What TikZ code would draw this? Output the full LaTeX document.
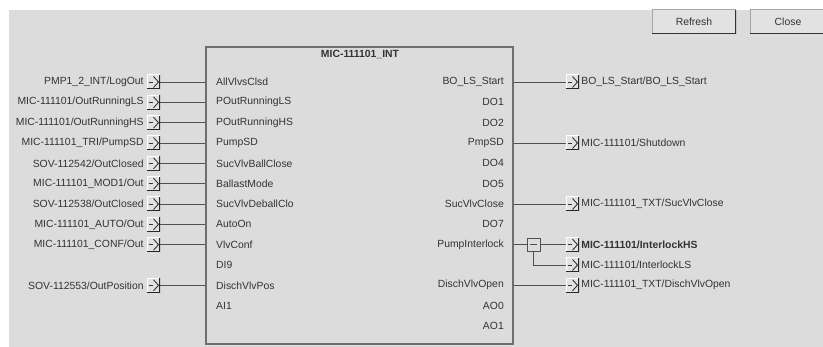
\documentclass[tikz,border=0pt]{standalone}
\usepackage{fontspec}
\setmainfont{Liberation Sans}
\usetikzlibrary{positioning}
\definecolor{panel}{HTML}{DCDCDC}
\definecolor{btnface}{HTML}{E2E2E2}
\definecolor{ink}{HTML}{333333}
\definecolor{wirec}{HTML}{505050}
\definecolor{edgec}{HTML}{6E6E6E}

\tikzset{
  lbl/.style={text=ink, inner sep=0pt, font=\fontsize{10.4}{12}\selectfont},
  wire/.style={draw=wirec, line width=0.8pt},
  xref/.style={minimum width=13pt, minimum height=14pt, inner sep=0pt, fill=btnface,
    path picture={
      \def\bb{path picture bounding box}
      \draw[white, line width=1pt] (\bb.south west) |- (\bb.north east);
      \draw[black!85, line width=1.4pt] (\bb.north east) |- (\bb.south west);
      \draw[ink, line width=0.8pt] ([xshift=-5pt]\bb.center) -- ([xshift=-1pt]\bb.center);
      \draw[ink, line width=0.9pt] ([xshift=0pt,yshift=5.5pt]\bb.center)
        -- ([xshift=5pt]\bb.center) -- ([yshift=-5.5pt]\bb.center);
    }},
  junc/.style={draw=wirec, line width=0.8pt, fill=panel, minimum size=13pt, inner sep=0pt,
    path picture={
      \draw[wirec, line width=0.8pt] ([xshift=-3.5pt]path picture bounding box.center)
        -- ([xshift=3.5pt]path picture bounding box.center);
    }},
  btn/.style={fill=btnface, text=ink, inner sep=0pt, font=\fontsize{10.4}{12}\selectfont,
    path picture={
      \def\bb{path picture bounding box}
      \draw[gray!70, line width=1pt] (\bb.south west) |- (\bb.north east);
      \draw[black!80, line width=1.6pt] (\bb.north east) |- (\bb.south west);
    }}
}

\begin{document}
\begin{tikzpicture}[x=1pt, y=-1pt]
  \useasboundingbox (0,0) rectangle (823,347);
  \fill[white] (0,0) rectangle (823,347);
  \fill[panel] (9,10) rectangle (823,347);

  % Buttons
  \node[btn, minimum width=84pt, minimum height=24pt] (refresh) at (694,22) {Refresh};
  \node[btn, minimum width=76pt, minimum height=24pt] (close) at (788,22) {Close};

  % Function block
  \node[draw=edgec, line width=1.2pt, fill=panel, minimum width=307pt, minimum height=297pt,
    inner sep=0pt] (blk) at (359.5,195.5) {};
  \node[lbl, font=\fontsize{10.4}{12}\selectfont\bfseries] (title) at (360,55) {MIC-111101\_INT};

  % Inputs of the block
  \node[lbl, anchor=west] (pin1) at (216,82) {AllVlvsClsd};
  \node[lbl, anchor=west] (pin2) at (216,102.3) {POutRunningLS};
  \node[lbl, anchor=west] (pin3) at (216,122.7) {POutRunningHS};
  \node[lbl, anchor=west] (pin4) at (216,143) {PumpSD};
  \node[lbl, anchor=west] (pin5) at (216,163.3) {SucVlvBallClose};
  \node[lbl, anchor=west] (pin6) at (216,183.7) {BallastMode};
  \node[lbl, anchor=west] (pin7) at (216,204) {SucVlvDeballClo};
  \node[lbl, anchor=west] (pin8) at (216,224.3) {AutoOn};
  \node[lbl, anchor=west] (pin9) at (216,244.7) {VlvConf};
  \node[lbl, anchor=west] (pin10) at (216,265) {DI9};
  \node[lbl, anchor=west] (pin11) at (216,285.3) {DischVlvPos};
  \node[lbl, anchor=west] (pin12) at (216,305.7) {AI1};

  % Outputs of the block
  \node[lbl, anchor=east] (pout1) at (504,82) {BO\_LS\_Start};
  \node[lbl, anchor=east] (pout2) at (504,102.3) {DO1};
  \node[lbl, anchor=east] (pout3) at (504,122.7) {DO2};
  \node[lbl, anchor=east] (pout4) at (504,143) {PmpSD};
  \node[lbl, anchor=east] (pout5) at (504,163.3) {DO4};
  \node[lbl, anchor=east] (pout6) at (504,183.7) {DO5};
  \node[lbl, anchor=east] (pout7) at (504,204) {SucVlvClose};
  \node[lbl, anchor=east] (pout8) at (504,224.3) {DO7};
  \node[lbl, anchor=east] (pout9) at (504,244.7) {PumpInterlock};
  \node[lbl, anchor=east] (pout11) at (504,285.3) {DischVlvOpen};
  \node[lbl, anchor=east] (pout12) at (504,305.7) {AO0};
  \node[lbl, anchor=east] (pout13) at (504,326) {AO1};

  % Left: sources
  \node[xref] (src1) at (153.5,82) {};
  \node[xref] (src2) at (153.5,102.3) {};
  \node[xref] (src3) at (153.5,122.7) {};
  \node[xref] (src4) at (153.5,143) {};
  \node[xref] (src5) at (153.5,163.3) {};
  \node[xref] (src6) at (153.5,183.7) {};
  \node[xref] (src7) at (153.5,204) {};
  \node[xref] (src8) at (153.5,224.3) {};
  \node[xref] (src9) at (153.5,244.7) {};
  \node[xref] (src11) at (153.5,285.3) {};

  \node[lbl, left=3pt of src1] (tag1) {PMP1\_2\_INT/LogOut};
  \node[lbl, left=3pt of src2] (tag2) {MIC-111101/OutRunningLS};
  \node[lbl, left=3pt of src3] (tag3) {MIC-111101/OutRunningHS};
  \node[lbl, left=3pt of src4] (tag4) {MIC-111101\_TRI/PumpSD};
  \node[lbl, left=3pt of src5] (tag5) {SOV-112542/OutClosed};
  \node[lbl, left=3pt of src6] (tag6) {MIC-111101\_MOD1/Out};
  \node[lbl, left=3pt of src7] (tag7) {SOV-112538/OutClosed};
  \node[lbl, left=3pt of src8] (tag8) {MIC-111101\_AUTO/Out};
  \node[lbl, left=3pt of src9] (tag9) {MIC-111101\_CONF/Out};
  \node[lbl, left=3pt of src11] (tag11) {SOV-112553/OutPosition};

  \draw[wire] (src1.east) -- (src1.east -| blk.west);
  \draw[wire] (src2.east) -- (src2.east -| blk.west);
  \draw[wire] (src3.east) -- (src3.east -| blk.west);
  \draw[wire] (src4.east) -- (src4.east -| blk.west);
  \draw[wire] (src5.east) -- (src5.east -| blk.west);
  \draw[wire] (src6.east) -- (src6.east -| blk.west);
  \draw[wire] (src7.east) -- (src7.east -| blk.west);
  \draw[wire] (src8.east) -- (src8.east -| blk.west);
  \draw[wire] (src9.east) -- (src9.east -| blk.west);
  \draw[wire] (src11.east) -- (src11.east -| blk.west);

  % Right: destinations
  \node[xref] (dst1) at (572.5,82) {};
  \node[xref] (dst4) at (572.5,143) {};
  \node[xref] (dst7) at (572.5,204) {};
  \node[xref] (dst9) at (572.5,244.7) {};
  \node[xref] (dst10) at (572.5,265) {};
  \node[xref] (dst11) at (572.5,285.3) {};

  \node[lbl, right=2pt of dst1] (dtag1) {BO\_LS\_Start/BO\_LS\_Start};
  \node[lbl, right=2pt of dst4] (dtag4) {MIC-111101/Shutdown};
  \node[lbl, right=2pt of dst7] (dtag7) {MIC-111101\_TXT/SucVlvClose};
  \node[lbl, right=2pt of dst9, font=\fontsize{10.4}{12}\selectfont\bfseries] (dtag9) {MIC-111101/InterlockHS};
  \node[lbl, right=2pt of dst10] (dtag10) {MIC-111101/InterlockLS};
  \node[lbl, right=2pt of dst11] (dtag11) {MIC-111101\_TXT/DischVlvOpen};

  \draw[wire] (dst1.west -| blk.east) -- (dst1.west);
  \draw[wire] (dst4.west -| blk.east) -- (dst4.west);
  \draw[wire] (dst7.west -| blk.east) -- (dst7.west);
  \draw[wire] (dst11.west -| blk.east) -- (dst11.west);

  % PumpInterlock fans out to two targets
  \node[junc] (fork) at (533.5,244.7) {};
  \draw[wire] (fork.west -| blk.east) -- (fork.west);
  \draw[wire] (fork.east) -- (dst9.west);
  \draw[wire] (fork.south) |- (dst10.west);
\end{tikzpicture}
\end{document}
